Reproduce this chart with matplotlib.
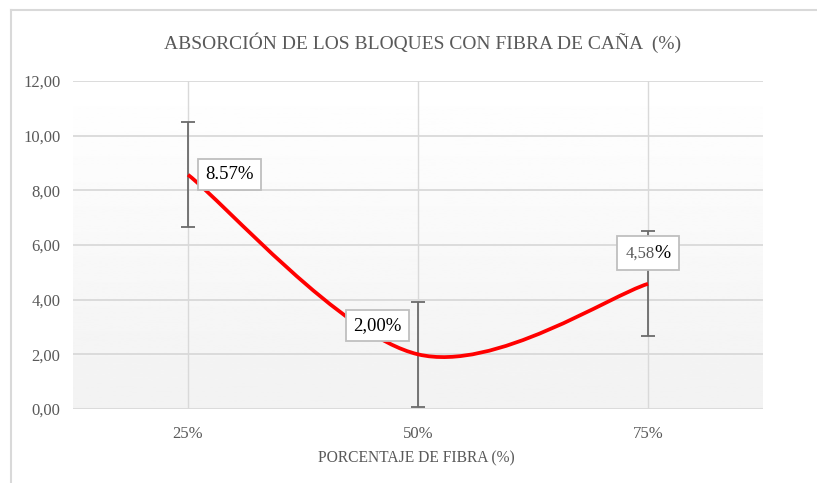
import numpy as np
import matplotlib
matplotlib.use("Agg")
import matplotlib.pyplot as plt
from matplotlib.path import Path
from matplotlib.patches import PathPatch
from matplotlib.lines import Line2D
from matplotlib.offsetbox import TextArea, HPacker, AnnotationBbox

# Data
categories = ["25%", "50%", "75%"]
absorcion = [8.57, 2.00, 4.58]
error = [1.92, 1.92, 1.92]
label_texts = ["8.57%", "2,00%", "4,58"]
yticks = [0, 2, 4, 6, 8, 10, 12]

GRID = "#d9d9d9"
TXT = "#595959"
SERIF = ["Liberation Serif", "DejaVu Serif"]


# Excel style smoothed line: cubic bezier through the points
def smooth_path(xs, ys):
    pts = np.column_stack([xs, ys])
    n = len(pts)
    verts = [pts[0]]
    codes = [Path.MOVETO]
    for i in range(n - 1):
        p_prev = pts[max(i - 1, 0)]
        p0 = pts[i]
        p1 = pts[i + 1]
        p_next = pts[min(i + 2, n - 1)]
        c1 = p0 + (p1 - p_prev) / 6.0
        c2 = p1 - (p_next - p0) / 6.0
        verts += [c1, c2, p1]
        codes += [Path.CURVE4] * 3
    return Path(verts, codes)


fig = plt.figure(figsize=(8.17, 4.83), dpi=100)
fig.patch.set_facecolor("white")
ax = fig.add_axes([73 / 817, 74 / 483, 690 / 817, 328 / 483])

x = np.arange(len(categories))

# background gradient (white top -> light grey bottom)
grad = np.linspace(0.949, 1.0, 256).reshape(-1, 1)
ax.imshow(grad, cmap="gray", vmin=0, vmax=1, origin="lower",
          extent=[0, 1, 0, 1], transform=ax.transAxes, aspect="auto", zorder=0)

ax.set_xlim(-0.5, len(categories) - 0.5)
ax.set_ylim(0, 12)
ax.set_yticks(yticks)
ax.set_yticklabels([f"{v:.2f}".replace(".", ",") for v in yticks])
ax.set_xticks(x)
ax.set_xticklabels(categories)

for v in yticks:
    ax.axhline(v, color=GRID, lw=1.3, zorder=1)
for xi in x:
    ax.axvline(xi, color=GRID, lw=1.0, zorder=1)

for s in ax.spines.values():
    s.set_visible(False)
ax.tick_params(length=0, labelsize=12, labelcolor=TXT)
for lab in ax.get_yticklabels() + ax.get_xticklabels():
    lab.set_family(SERIF)
ax.tick_params(axis="y", pad=9)
ax.tick_params(axis="x", pad=12)

# error bars
ax.errorbar(x, absorcion, yerr=error, fmt="none", ecolor="#6b6b6b",
            elinewidth=1.3, capsize=5, capthick=1.3, zorder=3)

# smoothed red line
ax.add_patch(PathPatch(smooth_path(x, absorcion), facecolor="none",
                       edgecolor="#ff0000", lw=2.7, zorder=4,
                       capstyle="butt"))

box = dict(boxstyle="square,pad=0.38", fc="white", ec="#bfbfbf", lw=1.3)
ax.annotate(label_texts[0], (x[0], absorcion[0]), xytext=(30, 0),
            textcoords="offset points", ha="center", va="center",
            fontsize=13.5, family=SERIF, color="black", bbox=box, zorder=6)
ax.annotate(label_texts[1], (x[1], absorcion[1]), xytext=(-29, 21),
            textcoords="offset points", ha="center", va="center",
            fontsize=13.5, family=SERIF, color="black", bbox=box, zorder=6)

# third label: grey number with black percent sign in one box
num = TextArea(label_texts[2], textprops=dict(color=TXT, fontsize=12, family=SERIF))
pct = TextArea("%", textprops=dict(color="black", fontsize=14, family=SERIF))
pack = HPacker(children=[num, pct], align="baseline", pad=0, sep=0)
ab = AnnotationBbox(pack, (x[2], absorcion[2]), xybox=(0, 22),
                    boxcoords="offset points", frameon=True,
                    bboxprops=dict(boxstyle="square,pad=0.6", fc="white",
                                   ec="#bfbfbf", lw=1.3),
                    zorder=6)
ax.add_artist(ab)

fig.text(423 / 817, 1 - 43 / 483, "ABSORCIÓN DE LOS BLOQUES CON FIBRA DE CAÑA  (%)",
         ha="center", va="center", fontsize=14, family=SERIF, color=TXT)
fig.text(416 / 817, 1 - 458 / 483, "PORCENTAJE DE FIBRA (%)",
         ha="center", va="center", fontsize=11.2, family=SERIF, color=TXT)

# chart frame (top and left edges visible)
fig.add_artist(Line2D([11 / 817, 1.0], [1 - 10 / 483, 1 - 10 / 483],
                      transform=fig.transFigure, color=GRID, lw=1.5))
fig.add_artist(Line2D([11 / 817, 11 / 817], [0, 1 - 10 / 483],
                      transform=fig.transFigure, color=GRID, lw=1.5))

fig.savefig("out.png", dpi=100)
